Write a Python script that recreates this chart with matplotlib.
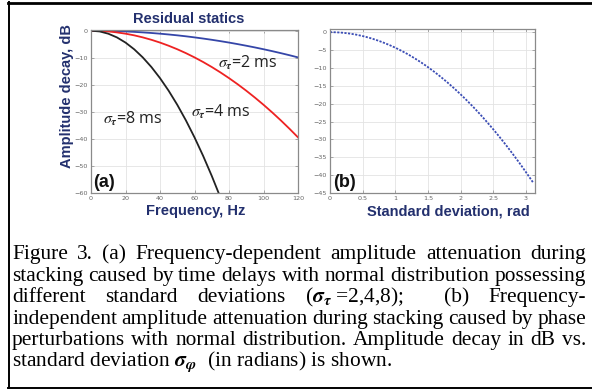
import matplotlib
matplotlib.use("Agg")
import matplotlib.pyplot as plt
from matplotlib.lines import Line2D

# ---------------- data ----------------
freq_hz = [0, 5, 10, 15, 20, 25, 30, 35, 40, 45, 50, 55, 60, 65, 70, 75,
           80, 85, 90, 95, 100, 105, 110, 115, 120]
db_2ms = [0, -0.02, -0.07, -0.15, -0.27, -0.43, -0.62, -0.84, -1.10, -1.39,
          -1.71, -2.07, -2.47, -2.90, -3.36, -3.86, -4.39, -4.96, -5.56, -6.19,
          -6.86, -7.56, -8.30, -9.07, -9.88]
db_4ms = [0, -0.07, -0.27, -0.62, -1.10, -1.71, -2.47, -3.36, -4.39, -5.56,
          -6.86, -8.30, -9.88, -11.59, -13.44, -15.43, -17.56, -19.82, -22.22,
          -24.76, -27.43, -30.24, -33.19, -36.28, -39.50]
freq_8ms = [0, 5, 10, 15, 20, 25, 30, 35, 40, 45, 50, 55, 60, 65, 70, 75]
db_8ms = [0, -0.27, -1.10, -2.47, -4.39, -6.86, -9.88, -13.44, -17.56, -22.22,
          -27.43, -33.19, -39.50, -46.36, -53.77, -61.72]

sigma_rad = [0, 0.1, 0.2, 0.3, 0.4, 0.5, 0.6, 0.7, 0.8, 0.9, 1.0, 1.1, 1.2,
             1.3, 1.4, 1.5, 1.6, 1.7, 1.8, 1.9, 2.0, 2.1, 2.2, 2.3, 2.4, 2.5,
             2.6, 2.7, 2.8, 2.9, 3.0, 3.1, 3.12]
db_phase = [0, -0.04, -0.17, -0.39, -0.69, -1.09, -1.56, -2.13, -2.78, -3.52,
            -4.34, -5.26, -6.25, -7.34, -8.51, -9.77, -11.12, -12.55, -14.07,
            -15.68, -17.37, -19.15, -21.02, -22.97, -25.02, -27.14, -29.36,
            -31.66, -34.05, -36.52, -39.09, -41.74, -42.28]

a_xticks = [0, 20, 40, 60, 80, 100, 120]
a_yticks = [0, -10, -20, -30, -40, -50, -60]
b_xticks = [0, 0.5, 1, 1.5, 2, 2.5, 3]
b_xticklabels = ["0", "0.5", "1", "1.5", "2", "2.5", "3"]
b_yticks = [0, -5, -10, -15, -20, -25, -30, -35, -40, -45]

caption_lines = [
    ["Figure", "3.", "(a)", "Frequency-dependent", "amplitude", "attenuation", "during"],
    ["stacking", "caused", "by", "time", "delays", "with", "normal", "distribution", "possessing"],
    ["different", "standard", "deviations", r"($\mathbfit{\sigma_\tau}$ =2,4,8);", "", "(b)", "Frequency-"],
    ["independent", "amplitude", "attenuation", "during", "stacking", "caused", "by", "phase"],
    ["perturbations", "with", "normal", "distribution.", "Amplitude", "decay", "in", "dB", "vs."],
    [r"standard deviation $\mathbfit{\sigma_\varphi}$  (in radians) is shown."],
]

# ---------------- figure ----------------
W, H = 592, 389
fig = plt.figure(figsize=(W / 100, H / 100), dpi=100)
fig.patch.set_facecolor("white")

navy = "#23306e"
tick_col = "#666666"

def px(x, y):
    return x / W, 1 - y / H

def style_axes(ax):
    for s in ax.spines.values():
        s.set_color("#8a8a8a")
        s.set_linewidth(0.9)
    ax.grid(True, color="#e3e3e3", linewidth=0.6)
    ax.set_axisbelow(True)
    ax.tick_params(direction="in", length=2.5, width=0.5, colors="#8a8a8a",
                   labelcolor=tick_col, labelsize=4.6, top=True, right=True, pad=2.5)

# left axes
axa = fig.add_axes([91 / W, 1 - 192.7 / H, 207 / W, 163.2 / H])
style_axes(axa)
axa.plot(freq_hz, db_2ms, color="#3546a8", lw=1.3)
axa.plot(freq_hz, db_4ms, color="#ee2222", lw=1.3)
axa.plot(freq_8ms, db_8ms, color="#222222", lw=1.3)
axa.set_xlim(0, 120)
axa.set_ylim(-60, 0.45)
axa.set_xticks(a_xticks)
axa.set_yticks(a_yticks)

ann_kw = dict(fontsize=11.5, family="Open Sans", math_fontfamily="stix",
              color="#222222", va="center", ha="left")
axa.text(73.5, -12, r"$\sigma_{\mathbfit{\tau}}$=2 ms", **ann_kw)
axa.text(58, -30, r"$\sigma_{\mathbfit{\tau}}$=4 ms", **ann_kw)
axa.text(7, -32.5, r"$\sigma_{\mathbfit{\tau}}$=8 ms", **ann_kw)
axa.text(1.0, -56.3, "(a)", fontsize=13, fontweight="bold", family="Liberation Sans",
         color="#111111", va="center", ha="left")

# right axes
axb = fig.add_axes([330 / W, 1 - 193 / H, 205 / W, 163.7 / H])
style_axes(axb)
axb.plot(sigma_rad, db_phase, color="#3b4db5", lw=1.3, linestyle=(0, (1.2, 0.8)))
axb.set_xlim(0, 3.14159)
axb.set_ylim(-45, 0.8)
axb.set_xticks(b_xticks)
axb.set_xticklabels(b_xticklabels)
axb.set_yticks(b_yticks)
axb.text(0.05, -42.0, "(b)", fontsize=13, fontweight="bold", family="Liberation Sans",
         color="#111111", va="center", ha="left")

lab_kw = dict(fontsize=10.5, fontweight="bold", family="Liberation Sans", color=navy)
fig.text(*px(189, 19), "Residual statics", ha="center", va="center", **lab_kw)
fig.text(*px(196, 211), "Frequency, Hz", ha="center", va="center", **lab_kw)
fig.text(*px(448, 211), "Standard deviation, rad", ha="center", va="center", **lab_kw)
fig.text(*px(67, 96), "Amplitude decay, dB", ha="center", va="center", rotation=90, **lab_kw)

# frame
fr = dict(color="black", transform=fig.transFigure)
fig.add_artist(Line2D([8 / W, 1.0], [1 - 2.5 / H, 1 - 2.5 / H], lw=2.0, **fr))
fig.add_artist(Line2D([8.5 / W, 8.5 / W], [1 - 2 / H, 1 - 388 / H], lw=1.4, **fr))
fig.add_artist(Line2D([8 / W, 1.0], [1 - 387.8 / H, 1 - 387.8 / H], lw=1.4, **fr))

# caption (justified)
renderer = fig.canvas.get_renderer()
cap_kw = dict(family="Liberation Serif", math_fontfamily="stix", color="black",
              va="baseline", ha="left")
x_left, x_right = 12, 586

def measure(s, fs):
    t = fig.text(0, 0, s, fontsize=fs, **cap_kw)
    w = t.get_window_extent(renderer).width
    t.remove()
    return w

# font size chosen so the (naturally spaced) second line fills the width
fs_ref = 12
w_line2 = measure(" ".join(caption_lines[1]), fs_ref)
cap_fs = fs_ref * (x_right - x_left) / w_line2

baseline0 = 259.0
line_step = 21.6
for i, words in enumerate(caption_lines):
    yb = baseline0 + i * line_step
    if len(words) == 1:
        fig.text(*px(x_left, yb), words[0], fontsize=cap_fs, **cap_kw)
        continue
    real = [w for w in words if w != ""]
    widths = [measure(w, cap_fs) for w in real]
    # gaps: an empty entry doubles the following gap
    weights = []
    pending = 0
    for w in words[1:]:
        if w == "":
            pending += 1
            continue
        weights.append(1 + pending)
        pending = 0
    total_gap = (x_right - x_left) - sum(widths)
    unit = total_gap / sum(weights)
    x = x_left
    for j, (w, wd) in enumerate(zip(real, widths)):
        fig.text(*px(x, yb), w, fontsize=cap_fs, **cap_kw)
        if j < len(weights):
            x += wd + unit * weights[j]

fig.savefig("out.png", dpi=100, facecolor="white")
